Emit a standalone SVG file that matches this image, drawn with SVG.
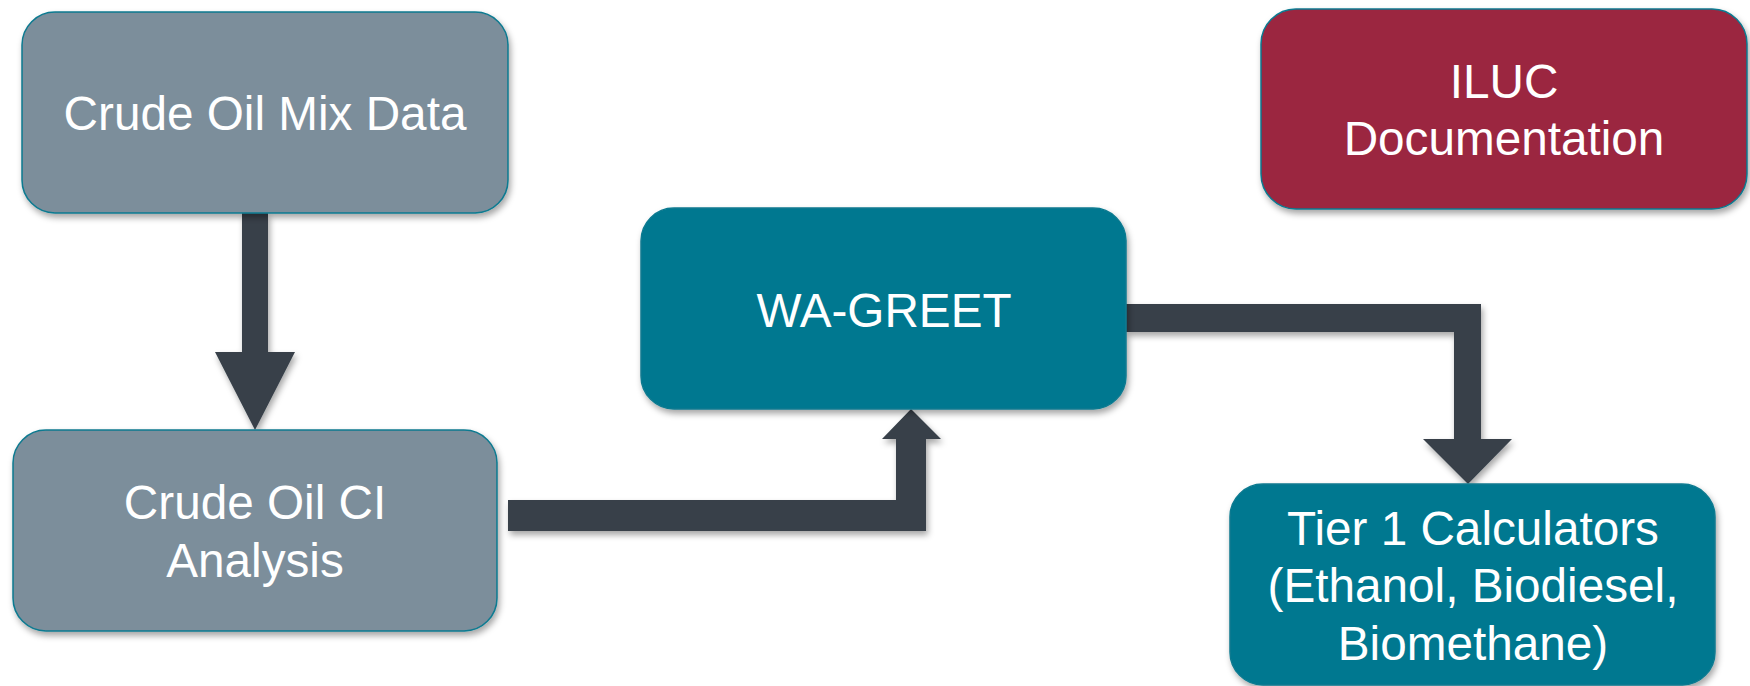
<svg xmlns="http://www.w3.org/2000/svg" width="1750" height="686" viewBox="0 0 1750 686">
  <defs>
    <filter id="sh" x="-10%" y="-10%" width="130%" height="140%">
      <feDropShadow dx="2" dy="4" stdDeviation="3" flood-color="#000" flood-opacity="0.35"/>
    </filter>
    <style>
      .box { stroke: #0a7a90; stroke-width: 1.5; filter: url(#sh); }
      .grey { fill: #7b8e9b; }
      .teal { fill: #007890; }
      .red { fill: #9b2540; }
      .lbl { font-family: "Liberation Sans", Arial, sans-serif; font-size: 47.7px; fill: #ffffff; text-anchor: middle; }
      .conn { fill: #37414a; filter: url(#sh); }
    </style>
  </defs>
  <rect width="1750" height="686" fill="#ffffff"/>

  <g id="connectors">
    <polygon class="conn" points="242,213 268,213 268,352 295,352 255,430 215,352 242,352"/>
    <polygon class="conn" points="508,500 896,500 896,439 882,439 911,409 941,439 926,439 926,531 508,531"/>
    <polygon class="conn" points="1126,304 1481,304 1481,439 1512,439 1468,484 1423,439 1454,439 1454,332 1126,332"/>
  </g>

  <g id="crude-oil-mix-data">
    <rect class="box grey" x="22" y="12" width="486" height="201" rx="33" ry="33"/>
    <text class="lbl" x="265" y="130">Crude Oil Mix Data</text>
  </g>

  <g id="crude-oil-ci-analysis">
    <rect class="box grey" x="13" y="430" width="484" height="201" rx="33" ry="33"/>
    <text class="lbl" x="255" y="519">Crude Oil CI</text>
    <text class="lbl" x="255" y="577">Analysis</text>
  </g>

  <g id="wa-greet">
    <rect class="box teal" x="641" y="208" width="485" height="201" rx="33" ry="33" stroke="#007890"/>
    <text class="lbl" x="884" y="327">WA-GREET</text>
  </g>

  <g id="iluc-documentation">
    <rect class="box red" x="1261" y="9" width="486" height="200" rx="35" ry="35"/>
    <text class="lbl" x="1504" y="98">ILUC</text>
    <text class="lbl" x="1504" y="155">Documentation</text>
  </g>

  <g id="tier1-calculators">
    <rect class="box teal" x="1230" y="484" width="485" height="201" rx="33" ry="33" stroke="#007890"/>
    <text class="lbl" x="1473" y="545">Tier 1 Calculators</text>
    <text class="lbl" x="1473" y="602">(Ethanol, Biodiesel,</text>
    <text class="lbl" x="1473" y="660">Biomethane)</text>
  </g>
</svg>
